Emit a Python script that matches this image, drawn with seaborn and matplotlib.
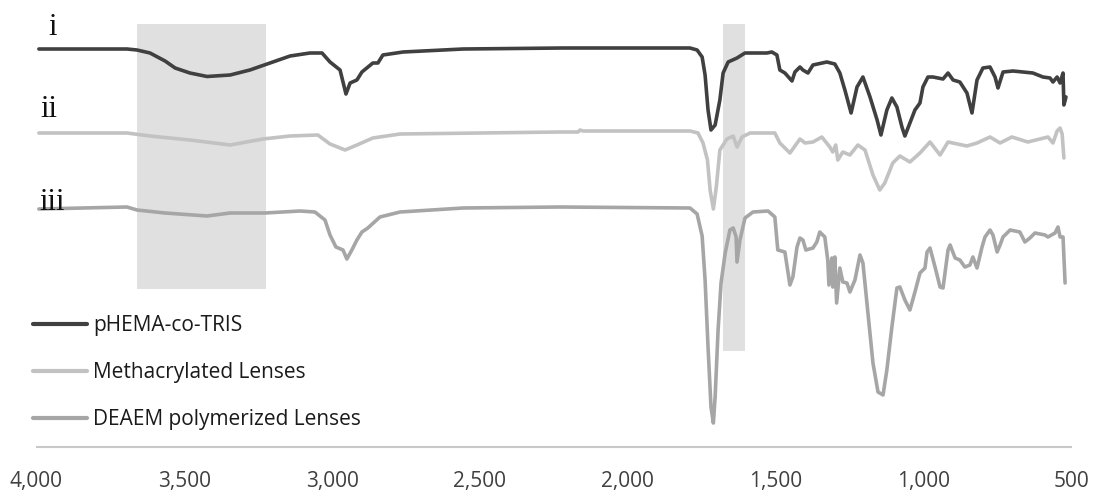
import numpy as np
import pandas as pd
import matplotlib
matplotlib.use("Agg")
import matplotlib.pyplot as plt
import seaborn as sns
from matplotlib.ticker import FuncFormatter, FixedLocator

# ---------------- data (offset FTIR spectra, arbitrary units) ----------------
wn_phema = [3992, 3694, 3660, 3616, 3565, 3531, 3481, 3423, 3345, 3278, 3210, 3142,
            3075, 3034, 3007, 2973, 2953, 2939, 2916, 2899, 2862, 2845, 2828, 2760,
            2557, 2219, 1789, 1765, 1748, 1738, 1728, 1718, 1704, 1688, 1677, 1660,
            1630, 1603, 1562, 1529, 1512, 1495, 1485, 1468, 1444, 1434, 1417, 1407,
            1390, 1373, 1326, 1299, 1282, 1265, 1244, 1224, 1204, 1180, 1156, 1143,
            1123, 1106, 1089, 1072, 1062, 1045, 1028, 1011, 1001, 984, 967, 933,
            916, 899, 876, 852, 835, 818, 798, 774, 757, 747, 730, 696, 629, 595,
            571, 561, 547, 537, 527, 524, 517]
t_phema = [398, 398, 397, 394, 386, 379, 374, 370.5, 372, 377, 384, 391,
           394, 394, 385, 377, 353, 364, 367, 375, 384, 384, 392, 395,
           398, 399, 399, 397, 390, 372, 337, 317, 322, 347, 374, 385,
           389, 394, 394, 394, 395, 392, 377, 374, 366, 375, 380, 377,
           374, 382, 385, 383, 374, 357, 334, 360, 370, 350, 327, 312,
           337, 349, 340, 320, 311, 324, 337, 344, 360, 370, 370, 368,
           374, 367, 365, 354, 334, 367, 379, 380, 370, 359, 375, 376, 374, 370,
           369, 365, 370, 364, 374, 342, 350]

wn_meth = [3992, 3694, 3616, 3481, 3345, 3234, 3142, 3048, 3007, 2956, 2916, 2862,
           2770, 2229, 2168, 2161, 2151, 1789, 1762, 1745, 1730, 1721, 1710, 1700,
           1688, 1664, 1643, 1630, 1613, 1586, 1502, 1485, 1451, 1417, 1400, 1373,
           1343, 1316, 1306, 1296, 1289, 1272, 1248, 1221, 1197, 1170, 1147, 1130,
           1103, 1079, 1045, 1011, 977, 943, 916, 852, 818, 774, 740, 700, 646,
           578, 561, 547, 537, 530, 524]
t_meth = [314, 314, 311, 307, 302, 308, 311, 312, 303, 297, 302, 309,
          313, 315, 315, 317, 316, 316, 314, 304, 287, 257, 238, 260,
          297, 308, 311, 300, 310, 314, 314, 304, 294, 308, 304, 305,
          310, 300, 295, 302, 287, 295, 292, 302, 297, 272, 257, 264,
          284, 291, 285, 294, 305, 292, 305, 301, 304, 310, 304, 310, 305,
          310, 304, 316, 319, 313, 289]

wn_deaem = [3992, 3694, 3660, 3565, 3423, 3345, 3227, 3109, 3058, 3024, 3007, 2987,
            2963, 2950, 2933, 2916, 2899, 2879, 2838, 2770, 2557, 2229, 1789, 1765,
            1748, 1738, 1728, 1718, 1710, 1704, 1694, 1684, 1670, 1654, 1643, 1633,
            1630, 1620, 1603, 1576, 1525, 1502, 1492, 1468, 1451, 1441, 1427, 1417,
            1407, 1397, 1373, 1360, 1350, 1333, 1323, 1319, 1309, 1306, 1299, 1293,
            1282, 1272, 1258, 1248, 1231, 1214, 1204, 1187, 1170, 1153, 1136, 1123,
            1106, 1089, 1079, 1062, 1045, 1028, 1011, 994, 987, 977, 960, 943, 933,
            916, 909, 892, 876, 859, 842, 832, 818, 801, 791, 774, 764, 750, 740,
            730, 706, 673, 656, 639, 622, 588, 578, 554, 544, 537, 527, 520]
t_deaem = [238, 240, 237, 234, 231, 234, 234, 236, 235, 227, 212, 200,
           197, 188, 197, 207, 215, 219, 230, 235, 239, 240, 239, 233,
           211, 167, 100, 40, 24, 50, 117, 164, 194, 217, 219, 210,
           185, 207, 229, 235, 236, 230, 197, 195, 162, 170, 200, 209,
           207, 197, 199, 205, 215, 210, 187, 162, 189, 160, 190, 144,
           179, 165, 164, 155, 167, 192, 184, 134, 84, 55, 52, 77,
           120, 159, 160, 147, 137, 155, 174, 179, 195, 199, 180, 160, 159,
           197, 202, 189, 187, 180, 182, 190, 179, 200, 210, 217, 212, 195, 202,
           210, 217, 215, 205, 209, 214, 212, 210, 214, 220, 210, 210, 164]

series_names = ["pHEMA-co-TRIS", "Methacrylated Lenses", "DEAEM polymerized Lenses"]
spectrum_labels = ["i", "ii", "iii"]
shaded_bands = [(3660, 3225), (1677, 1602)]
x_ticks = [4000, 3500, 3000, 2500, 2000, 1500, 1000, 500]

# ---------------- build long-form table ----------------
df = pd.concat([
    pd.DataFrame({"wavenumber": wn_phema, "signal": t_phema, "sample": series_names[0]}),
    pd.DataFrame({"wavenumber": wn_meth, "signal": t_meth, "sample": series_names[1]}),
    pd.DataFrame({"wavenumber": wn_deaem, "signal": t_deaem, "sample": series_names[2]}),
], ignore_index=True)

sns.set_style("white")
plt.rcParams["font.family"] = ["Open Sans", "DejaVu Sans"]

W, H = 1094, 491
fig = plt.figure(figsize=(W / 100, H / 100), dpi=100)
ax = fig.add_axes([36.5 / W, 1 - 447 / H, 1034.5 / W, 437 / H])

palette = {series_names[0]: "#404040", series_names[1]: "#c2c2c2", series_names[2]: "#a6a6a6"}

# shaded regions
ax.axvspan(shaded_bands[0][0], shaded_bands[0][1], ymin=158 / 437, ymax=423 / 437,
           color="#e0e0e0", lw=0, zorder=0)
ax.axvspan(shaded_bands[1][0], shaded_bands[1][1], ymin=96 / 437, ymax=423 / 437,
           color="#e0e0e0", lw=0, zorder=0)

sns.lineplot(data=df, x="wavenumber", y="signal", hue="sample", palette=palette,
             hue_order=series_names, estimator=None, sort=True, linewidth=2.6,
             ax=ax, zorder=3)

ax.set_xlim(4000, 500)
ax.set_ylim(0, 437)
ax.set_xlabel("")
ax.set_ylabel("")
ax.set_yticks([])
ax.xaxis.set_major_locator(FixedLocator(x_ticks))
ax.xaxis.set_major_formatter(FuncFormatter(lambda v, p: f"{int(v):,}"))
ax.tick_params(axis="x", length=0, pad=17, labelsize=15, labelcolor="#404040")
for s in ["top", "left", "right"]:
    ax.spines[s].set_visible(False)
ax.spines["bottom"].set_color("#c8c8c8")
ax.spines["bottom"].set_linewidth(1.5)
ax.patch.set_alpha(0)

# spectrum labels
for lab, (px, py) in zip(spectrum_labels, [(52.5, 35), (48.5, 117), (52.5, 210)]):
    fig.text(px / W, 1 - py / H, lab, ha="center", va="baseline",
             fontsize=22, family="Liberation Serif", color="#111111")

leg = ax.legend(loc="upper left", bbox_to_anchor=(33 / W, 1 - 315 / H),
                bbox_transform=fig.transFigure, frameon=False, fontsize=15,
                handlelength=2.6, handletextpad=0.3, labelspacing=1.25,
                borderpad=0, borderaxespad=0)
for t in leg.get_texts():
    t.set_color("#1a1a1a")
for l in leg.get_lines():
    l.set_linewidth(3)

fig.savefig("out.png", dpi=100)
